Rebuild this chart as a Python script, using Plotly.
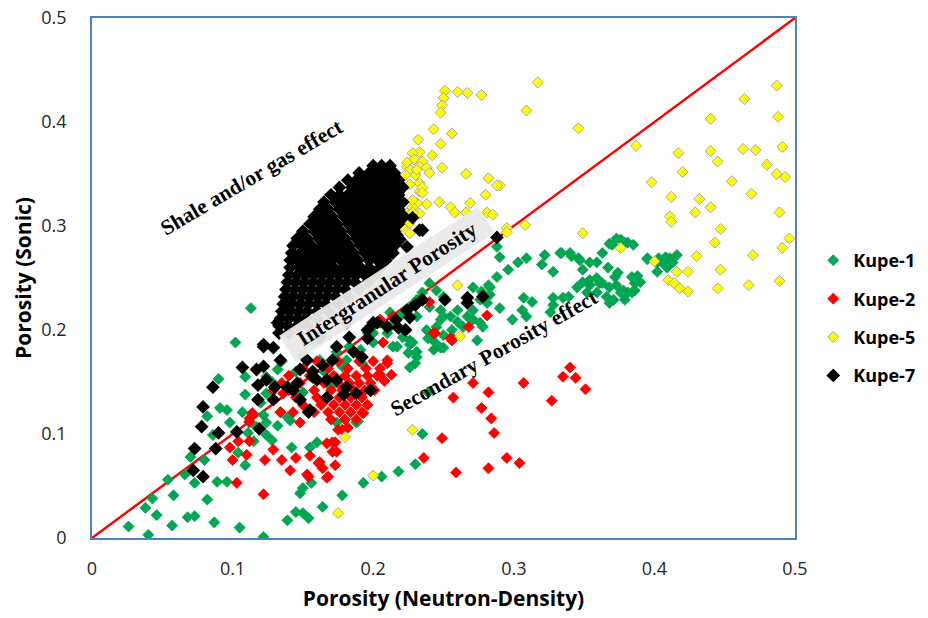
import plotly.graph_objects as go

# ---------------- data (x = Porosity Neutron-Density, y = Porosity Sonic) ----------------
kupe1_pts = [
    (0.109,0.138),(0.091,0.125),(0.096,0.123),(0.107,0.121),(0.114,0.120),(0.082,0.117),(0.098,0.111),
    (0.112,0.111),(0.122,0.118),(0.124,0.111),(0.111,0.101),(0.115,0.093),(0.124,0.099),(0.128,0.094),
    (0.086,0.099),(0.104,0.082),(0.109,0.070),(0.070,0.078),(0.080,0.075),(0.066,0.061),(0.073,0.053),
    (0.054,0.056),(0.058,0.041),(0.043,0.038),(0.038,0.029),(0.046,0.022),(0.026,0.011),(0.040,0.003),
    (0.057,0.012),(0.068,0.020),(0.073,0.021),(0.082,0.037),(0.089,0.054),(0.096,0.054),(0.087,0.015),
    (0.105,0.010),(0.122,0.001),(0.142,0.087),(0.155,0.087),(0.160,0.092),(0.156,0.053),(0.150,0.048),
    (0.148,0.043),(0.150,0.024),(0.145,0.025),(0.154,0.019),(0.139,0.017),(0.164,0.030),(0.178,0.041),
    (0.193,0.053),(0.141,0.113),(0.132,0.108),(0.189,0.112),(0.206,0.059),(0.218,0.064),(0.230,0.071),
    (0.235,0.100),(0.239,0.140),
    (0.113,0.221),(0.102,0.188),(0.090,0.153),(0.109,0.155),(0.124,0.155),(0.132,0.162),(0.124,0.139),
    (0.117,0.107),(0.134,0.121),(0.139,0.116),(0.162,0.171),(0.174,0.179),(0.183,0.184),(0.196,0.197),
    (0.205,0.207),(0.212,0.217),(0.210,0.197),(0.200,0.188),(0.191,0.181),(0.181,0.171),(0.214,0.184),
    (0.157,0.188),(0.188,0.111),(0.174,0.111),
    (0.165,0.160),(0.178,0.165),(0.192,0.168),(0.170,0.145),(0.150,0.140),(0.145,0.160),(0.135,0.170),
    (0.150,0.175),(0.120,0.130),(0.128,0.150),
    (0.240,0.245),(0.245,0.238),(0.235,0.236),(0.231,0.229),(0.226,0.222),(0.221,0.216),(0.217,0.210),
    (0.212,0.203),(0.231,0.213),(0.240,0.222),(0.250,0.232),(0.250,0.213),(0.260,0.219),(0.238,0.200),
    (0.226,0.190),(0.217,0.184),(0.231,0.174),(0.226,0.164),(0.243,0.181),(0.256,0.193),(0.283,0.241),
    (0.290,0.270),(0.281,0.226),(0.271,0.210),(0.264,0.203),(0.278,0.203),(0.274,0.190),
    (0.200,0.197),(0.221,0.193),(0.228,0.188),(0.225,0.178),(0.230,0.168),(0.239,0.192),(0.244,0.188),
    (0.250,0.183),
    (0.288,0.280),(0.309,0.269),(0.303,0.265),(0.322,0.272),(0.333,0.274),(0.341,0.271),(0.347,0.267),
    (0.354,0.265),(0.363,0.274),(0.368,0.283),(0.373,0.288),(0.379,0.284),(0.385,0.282),(0.395,0.269),
    (0.402,0.265),(0.408,0.270),(0.402,0.256),(0.388,0.252),(0.374,0.255),(0.359,0.265),(0.349,0.258),
    (0.328,0.256),(0.320,0.263),(0.296,0.258),(0.288,0.251),(0.282,0.243),(0.271,0.241),(0.277,0.237),
    (0.349,0.246),(0.354,0.243),(0.359,0.250),(0.363,0.245),(0.368,0.241),(0.373,0.243),(0.378,0.238),
    (0.366,0.232),(0.371,0.229),(0.359,0.236),(0.352,0.236),(0.368,0.226),(0.379,0.229),(0.384,0.236),
    (0.345,0.241),(0.386,0.245),
    (0.328,0.231),(0.335,0.231),(0.328,0.224),(0.326,0.217),(0.307,0.231),(0.313,0.227),(0.306,0.219),
    (0.309,0.213),(0.299,0.210),(0.290,0.221),(0.283,0.234),(0.276,0.229),(0.271,0.219),(0.267,0.213),
    (0.260,0.208),(0.255,0.213),(0.248,0.219),(0.248,0.210),(0.256,0.200),(0.250,0.195),(0.245,0.203),
    (0.276,0.207),(0.248,0.183),(0.226,0.186),(0.231,0.179),
    (0.376,0.287),(0.381,0.284),(0.370,0.282),(0.340,0.274),(0.334,0.274),(0.346,0.269),(0.367,0.260),
    (0.372,0.251),(0.384,0.251),(0.390,0.246),(0.386,0.238),(0.381,0.236),(0.376,0.236),(0.361,0.245),
    (0.354,0.248),(0.395,0.268),(0.403,0.269),(0.411,0.269),(0.416,0.272),(0.413,0.265),(0.406,0.264),
    (0.409,0.260),(0.339,0.232),
]

kupe2_pts = [
    (0.340,0.164),(0.335,0.155),(0.344,0.154),(0.351,0.143),(0.327,0.132),(0.307,0.149),(0.282,0.140),
    (0.271,0.149),(0.257,0.135),(0.277,0.125),(0.284,0.115),(0.286,0.101),(0.249,0.096),(0.236,0.077),
    (0.295,0.077),(0.304,0.072),(0.282,0.067),(0.259,0.063),(0.210,0.168),(0.207,0.188),(0.213,0.157),
    (0.208,0.151),(0.256,0.190),(0.244,0.197),(0.240,0.227),(0.281,0.214),(0.268,0.203),(0.255,0.192),
    (0.243,0.197),(0.214,0.213),(0.205,0.210),(0.210,0.171),(0.205,0.157),
    (0.112,0.115),(0.104,0.093),(0.098,0.087),(0.110,0.080),(0.123,0.075),(0.100,0.075),(0.135,0.075),
    (0.141,0.065),(0.153,0.061),(0.167,0.058),(0.164,0.067),(0.173,0.070),(0.129,0.085),(0.145,0.077),
    (0.155,0.079),(0.161,0.072),(0.167,0.091),(0.174,0.083),(0.173,0.092),(0.178,0.104),(0.182,0.106),
    (0.148,0.111),(0.134,0.121),(0.143,0.121),(0.103,0.053),(0.122,0.042),(0.112,0.093),(0.171,0.092),
    (0.171,0.083),(0.162,0.073),(0.168,0.059),(0.154,0.059),(0.175,0.104),(0.193,0.120),
    (0.136,0.139),(0.129,0.142),(0.112,0.112),(0.114,0.120),
    (0.160,0.170),(0.175,0.170),(0.190,0.170),(0.200,0.170),
    (0.150,0.163),(0.168,0.163),(0.182,0.163),(0.195,0.163),(0.205,0.163),
    (0.140,0.156),(0.155,0.156),(0.172,0.156),(0.180,0.156),(0.188,0.156),(0.196,0.156),(0.203,0.156),
    (0.135,0.149),(0.148,0.149),(0.165,0.149),(0.175,0.149),(0.183,0.149),(0.190,0.149),(0.198,0.149),
    (0.140,0.142),(0.158,0.142),(0.170,0.142),(0.178,0.142),(0.186,0.142),(0.194,0.142),(0.201,0.142),
    (0.145,0.135),(0.160,0.135),(0.168,0.135),(0.176,0.135),(0.184,0.135),(0.192,0.135),
    (0.150,0.128),(0.163,0.128),(0.172,0.128),(0.180,0.128),(0.188,0.128),(0.196,0.128),
    (0.158,0.121),(0.168,0.121),(0.176,0.121),(0.184,0.121),(0.192,0.121),
    (0.170,0.114),(0.180,0.114),(0.188,0.114),
]

kupe5_pts = [
    (0.317,0.438),(0.251,0.430),(0.260,0.429),(0.267,0.428),(0.277,0.426),(0.250,0.423),(0.249,0.416),
    (0.248,0.409),(0.309,0.411),(0.243,0.393),(0.256,0.389),(0.232,0.383),(0.248,0.379),(0.233,0.371),
    (0.228,0.370),(0.242,0.368),(0.229,0.364),(0.235,0.362),(0.224,0.357),(0.233,0.357),(0.226,0.354),
    (0.238,0.356),(0.249,0.356),(0.223,0.349),(0.230,0.349),(0.240,0.351),(0.266,0.350),(0.282,0.346),
    (0.290,0.339),(0.226,0.340),(0.233,0.341),(0.233,0.333),(0.235,0.337),(0.280,0.330),(0.247,0.323),
    (0.255,0.318),(0.238,0.321),(0.231,0.322),(0.228,0.318),(0.269,0.322),(0.258,0.313),(0.281,0.313),
    (0.285,0.311),(0.233,0.312),(0.224,0.312),(0.220,0.309),(0.226,0.303),(0.308,0.301),(0.295,0.298),
    (0.346,0.394),
    (0.224,0.361),(0.231,0.354),(0.221,0.338),(0.228,0.325),(0.235,0.332),(0.228,0.313),(0.221,0.299),
    (0.226,0.293),(0.218,0.285),(0.214,0.277),(0.260,0.243),(0.266,0.313),(0.288,0.339),(0.295,0.294),
    (0.262,0.194),(0.228,0.104),(0.200,0.060),(0.180,0.097),(0.175,0.024),
    (0.487,0.435),(0.464,0.422),(0.440,0.403),(0.488,0.405),(0.387,0.377),(0.417,0.370),(0.440,0.372),
    (0.445,0.362),(0.463,0.374),(0.472,0.373),(0.491,0.376),(0.420,0.352),(0.480,0.359),(0.487,0.350),
    (0.493,0.347),(0.398,0.342),(0.455,0.343),(0.469,0.331),(0.412,0.328),(0.432,0.326),(0.440,0.318),
    (0.411,0.309),(0.412,0.304),(0.429,0.313),(0.489,0.313),(0.447,0.297),(0.349,0.293),(0.443,0.284),
    (0.496,0.288),(0.491,0.279),(0.376,0.279),(0.430,0.271),(0.470,0.272),(0.400,0.266),(0.416,0.256),
    (0.424,0.256),(0.447,0.258),(0.410,0.248),(0.414,0.245),(0.418,0.240),(0.424,0.237),(0.445,0.240),
    (0.467,0.243),(0.489,0.247),
]

kupe7_pts = [
    (0.200,0.358),(0.206,0.358),(0.212,0.358),
    (0.190,0.351),(0.197,0.351),(0.203,0.351),(0.209,0.351),(0.215,0.351),
    (0.182,0.344),(0.188,0.344),(0.194,0.344),(0.200,0.344),(0.206,0.344),(0.212,0.344),(0.218,0.344),
    (0.176,0.337),(0.185,0.337),(0.191,0.337),(0.197,0.337),(0.203,0.337),(0.209,0.337),(0.215,0.337),(0.221,0.337),
    (0.170,0.330),(0.176,0.330),(0.182,0.330),(0.188,0.330),(0.194,0.330),(0.200,0.330),(0.206,0.330),(0.212,0.330),(0.218,0.330),
    (0.165,0.323),(0.173,0.323),(0.179,0.323),(0.185,0.323),(0.191,0.323),(0.197,0.323),(0.203,0.323),(0.209,0.323),(0.215,0.323),(0.221,0.323),
    (0.162,0.316),(0.168,0.316),(0.176,0.316),(0.182,0.316),(0.188,0.316),(0.194,0.316),(0.200,0.316),(0.206,0.316),(0.212,0.316),(0.218,0.316),
    (0.158,0.309),(0.165,0.309),(0.171,0.309),(0.179,0.309),(0.185,0.309),(0.191,0.309),(0.197,0.309),(0.203,0.309),(0.209,0.309),(0.215,0.309),(0.222,0.309),
    (0.155,0.302),(0.162,0.302),(0.168,0.302),(0.174,0.302),(0.182,0.302),(0.188,0.302),(0.194,0.302),(0.200,0.302),(0.206,0.302),(0.212,0.302),(0.218,0.302),
    (0.150,0.295),(0.158,0.295),(0.165,0.295),(0.171,0.295),(0.177,0.295),(0.185,0.295),(0.191,0.295),(0.197,0.295),(0.203,0.295),(0.209,0.295),(0.215,0.295),
    (0.146,0.288),(0.153,0.288),(0.161,0.288),(0.168,0.288),(0.174,0.288),(0.180,0.288),(0.188,0.288),(0.194,0.288),(0.200,0.288),(0.206,0.288),(0.212,0.288),(0.218,0.288),
    (0.143,0.281),(0.150,0.281),(0.156,0.281),(0.164,0.281),(0.171,0.281),(0.177,0.281),(0.183,0.281),(0.191,0.281),(0.197,0.281),(0.203,0.281),(0.209,0.281),(0.215,0.281),
    (0.142,0.274),(0.148,0.274),(0.154,0.274),(0.160,0.274),(0.167,0.274),(0.174,0.274),(0.180,0.274),(0.186,0.274),(0.194,0.274),(0.200,0.274),(0.206,0.274),(0.212,0.274),
    (0.141,0.267),(0.146,0.267),(0.152,0.267),(0.158,0.267),(0.164,0.267),(0.170,0.267),(0.177,0.267),(0.183,0.267),(0.189,0.267),(0.197,0.267),(0.203,0.267),(0.209,0.267),
    (0.141,0.260),(0.148,0.260),(0.154,0.260),(0.160,0.260),(0.166,0.260),(0.172,0.260),(0.179,0.260),(0.185,0.260),(0.191,0.260),(0.197,0.260),(0.205,0.260),
    (0.140,0.253),(0.146,0.253),(0.152,0.253),(0.158,0.253),(0.164,0.253),(0.170,0.253),(0.176,0.253),(0.182,0.253),(0.188,0.253),(0.194,0.253),(0.201,0.253),
    (0.139,0.246),(0.145,0.246),(0.151,0.246),(0.157,0.246),(0.163,0.246),(0.169,0.246),(0.175,0.246),(0.181,0.246),(0.187,0.246),(0.196,0.246),
    (0.138,0.239),(0.144,0.239),(0.150,0.239),(0.156,0.239),(0.162,0.239),(0.168,0.239),(0.174,0.239),(0.180,0.239),(0.190,0.239),
    (0.137,0.232),(0.143,0.232),(0.149,0.232),(0.155,0.232),(0.161,0.232),(0.167,0.232),(0.173,0.232),(0.182,0.232),
    (0.136,0.225),(0.142,0.225),(0.148,0.225),(0.154,0.225),(0.160,0.225),(0.166,0.225),(0.175,0.225),
    (0.135,0.218),(0.141,0.218),(0.147,0.218),(0.153,0.218),(0.160,0.218),(0.168,0.218),
    (0.134,0.211),(0.140,0.211),(0.146,0.211),(0.152,0.211),(0.160,0.211),
    (0.133,0.204),(0.139,0.204),(0.146,0.204),(0.153,0.204),
    (0.133,0.197),(0.140,0.197),
    (0.233,0.296),(0.228,0.308),(0.219,0.287),(0.224,0.280),(0.210,0.277),(0.214,0.274),
    (0.139,0.224),(0.132,0.207),(0.122,0.186),(0.129,0.183),(0.107,0.164),(0.122,0.165),(0.086,0.145),
    (0.118,0.147),(0.079,0.126),(0.118,0.133),(0.078,0.107),(0.090,0.101),(0.103,0.102),(0.088,0.086),
    (0.073,0.086),(0.119,0.105),(0.072,0.065),(0.079,0.059),(0.154,0.121),(0.122,0.184),
    (0.130,0.145),(0.139,0.145),(0.146,0.149),(0.157,0.155),(0.160,0.152),(0.167,0.152),(0.174,0.152),
    (0.181,0.145),(0.188,0.139),(0.192,0.174),(0.186,0.179),(0.196,0.192),(0.183,0.193),(0.171,0.171),
    (0.164,0.166),(0.157,0.160),(0.153,0.171),(0.143,0.142),(0.155,0.123),(0.148,0.133),(0.167,0.135),
    (0.210,0.203),(0.200,0.207),(0.181,0.207),(0.174,0.184),(0.162,0.193),(0.134,0.171),(0.124,0.152),
    (0.117,0.162),(0.179,0.138),(0.129,0.133),(0.198,0.142),(0.148,0.162),
    (0.288,0.289),(0.235,0.296),(0.217,0.291),(0.251,0.229),(0.267,0.231),(0.278,0.232),(0.267,0.226),
    (0.230,0.224),(0.235,0.229),(0.226,0.212),(0.218,0.202),(0.223,0.200),(0.216,0.210),(0.224,0.219),
    (0.203,0.207),(0.196,0.200),
]

line_x = [0, 0.5]
line_y = [0, 0.5]

series = [
    ("Kupe-1", kupe1_pts, "#00a651", "#00a651", 0.8, 8.5),
    ("Kupe-2", kupe2_pts, "#ff0000", "#ff0000", 0.8, 8.5),
    ("Kupe-5", kupe5_pts, "#ffff00", "#a6a6a6", 1, 8.5),
    ("Kupe-7", kupe7_pts, "#000000", "#000000", 2.4, 8),
]

fig = go.Figure()
fig.add_trace(go.Scatter(x=line_x, y=line_y, mode="lines",
                         line=dict(color="#ff0000", width=2.5),
                         showlegend=False, hoverinfo="skip"))

for name, pts, fill, edge, lw, ms in series:
    fig.add_trace(go.Scatter(
        x=[p[0] for p in pts], y=[p[1] for p in pts], mode="markers", name=name,
        legendgroup=name,
        marker=dict(symbol="diamond", size=ms, color=fill, line=dict(color=edge, width=lw)),
    ))

serif = dict(family="Liberation Serif", size=21.5, color="black", weight="bold")
fig.add_annotation(x=0.114, y=0.347, xref="x", yref="y", text="Shale and/or gas effect",
                   showarrow=False, textangle=-30.5, font=serif)
fig.add_annotation(x=0.210, y=0.244, xref="x", yref="y",
                   text="\u00a0\u00a0Intergranular Porosity\u00a0\u00a0",
                   showarrow=False, textangle=-33, font=serif,
                   bgcolor="rgba(233,233,233,0.95)", borderpad=3)
fig.add_annotation(x=0.286, y=0.178, xref="x", yref="y", text="Secondary Porosity effect",
                   showarrow=False, textangle=-29.5, font=serif)

tickfont = dict(family="Open Sans", size=18, color="#262626")
titlefont = dict(family="Open Sans", size=21, color="black", weight="bold")
axis_common = dict(
    range=[0, 0.5], dtick=0.1, tick0=0, showgrid=False, zeroline=False,
    showline=True, mirror=True, linecolor="#4f81bd", linewidth=1.5,
    ticks="", tickfont=tickfont,
)
fig.update_xaxes(**axis_common, ticklabelstandoff=14,
                 title=dict(text="Porosity (Neutron-Density)", standoff=12, font=titlefont))
fig.update_yaxes(**axis_common, ticklabelstandoff=20,
                 title=dict(text="Porosity (Sonic)", standoff=4, font=titlefont))

fig.update_layout(
    width=928, height=618,
    margin=dict(l=92, r=133, t=18, b=80, autoexpand=False),
    paper_bgcolor="white", plot_bgcolor="white",
    legend=dict(x=1.026, xanchor="left", y=0.423, yanchor="middle",
                font=dict(family="Open Sans", size=18, color="black", weight="bold"),
                tracegroupgap=12, bgcolor="rgba(0,0,0,0)"),
)

fig.write_html("out.html")
